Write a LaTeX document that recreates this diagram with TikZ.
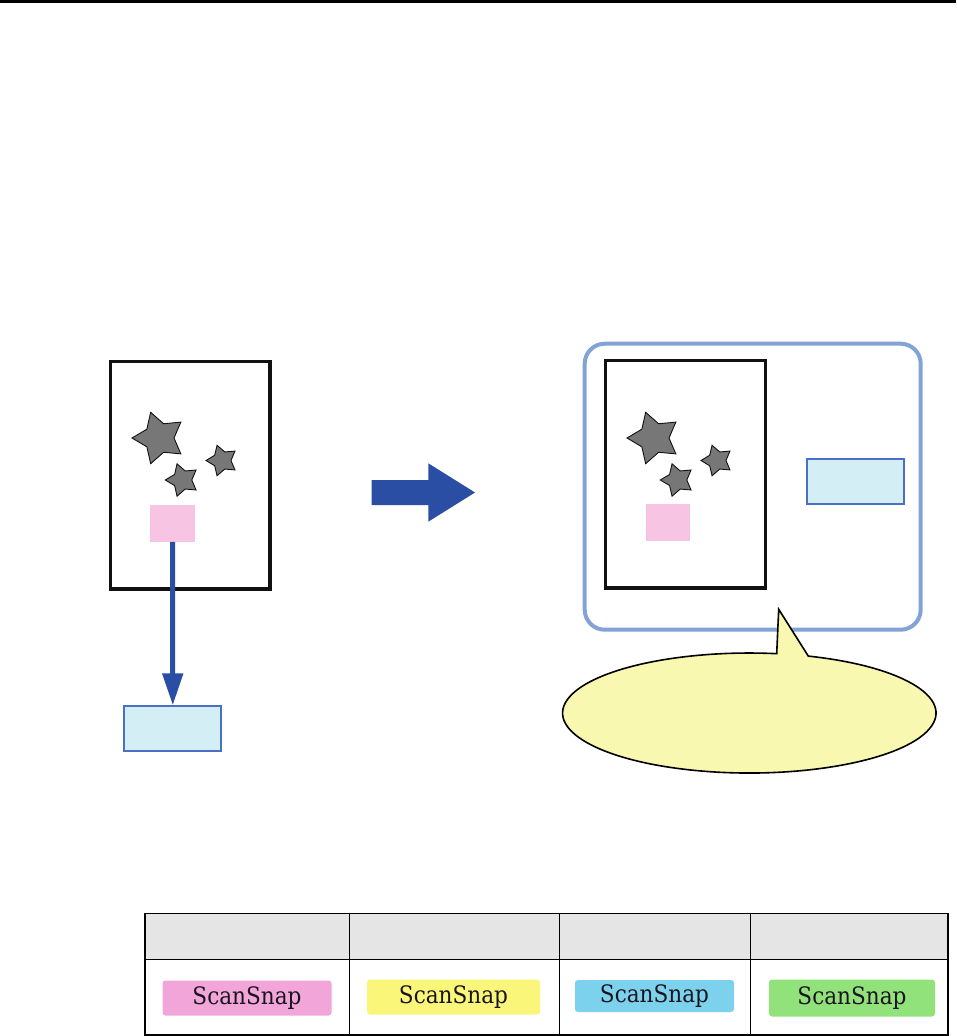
\documentclass[tikz,border=0pt]{standalone}
\usepackage{fontspec}
\newfontfamily\swfont{DejaVu Serif Condensed}
\usetikzlibrary{arrows.meta}
\definecolor{docline}{RGB}{17,17,17}
\definecolor{stargray}{RGB}{119,119,119}
\definecolor{pinkbox}{RGB}{248,196,228}
\definecolor{arrowblue}{RGB}{42,78,163}
\definecolor{cyanfill}{RGB}{211,239,245}
\definecolor{cyanline}{RGB}{74,112,196}
\definecolor{frameblue}{RGB}{131,163,214}
\definecolor{calloutfill}{RGB}{248,248,176}
\definecolor{headergray}{RGB}{229,229,229}
\definecolor{swpink}{RGB}{242,165,216}
\definecolor{swyellow}{RGB}{250,246,122}
\definecolor{swcyan}{RGB}{124,210,236}
\definecolor{swgreen}{RGB}{146,226,124}
\definecolor{swtext}{RGB}{25,20,30}
\tikzset{
  docpage/.style={draw=docline, line width=3.5pt, fill=white},
  starsty/.style={fill=stargray, draw=docline, line width=0.9pt, line join=miter},
  pinksq/.style={fill=pinkbox, draw=none, minimum width=45pt, minimum height=36.7pt, inner sep=0pt},
  cyanbox/.style={fill=cyanfill, draw=cyanline, line width=2pt, minimum width=97pt, minimum height=45pt, inner sep=0pt},
  frame/.style={draw=frameblue, line width=4pt, rounded corners=20pt},
  callout/.style={fill=calloutfill, draw=black, line width=1.6pt, line join=miter},
  tableline/.style={draw=black, line width=1.5pt},
  swatch/.style={rounded corners=3pt, inner sep=0pt, text=swtext, font=\swfont\fontsize{24}{28}\selectfont},
}
\begin{document}
\begin{tikzpicture}[x=1pt,y=-1pt]
\useasboundingbox (0,0) rectangle (956,1036);
% top rule
\fill[black] (0,0) rectangle (956,3);

% ---- left document ----
\draw[docpage] (110.5,361.3) rectangle (270,589);
\filldraw[starsty, shift={(159,438)}] (180:27) -- (216:15) -- (252:27) -- (288:15) -- (324:27) -- (0:15) -- (36:27) -- (72:15) -- (108:27) -- (144:15) -- cycle;
\filldraw[starsty, shift={(182.3,480)}] (180:17) -- (216:9.5) -- (252:17) -- (288:9.5) -- (324:17) -- (0:9.5) -- (36:17) -- (72:9.5) -- (108:17) -- (144:9.5) -- cycle;
\filldraw[starsty, shift={(222,460.5)}] (180:16) -- (216:9) -- (252:16) -- (288:9) -- (324:16) -- (0:9) -- (36:16) -- (72:9) -- (108:16) -- (144:9) -- cycle;
\node[pinksq] (pinkL) at (172.5,523.3) {};
\node[cyanbox] (cyanL) at (172.8,728.8) {};
\draw[arrowblue, line width=5pt, -{Triangle[length=32pt,width=20pt]}] (pinkL.south) -- (cyanL.north);

% ---- big arrow ----
\fill[arrowblue] (371.7,480) -- (428.3,480) -- (428.3,463.3) -- (475,492.5) -- (428.3,521.7) -- (428.3,505) -- (371.7,505) -- cycle;

% ---- right frame ----
\draw[frame, fill=white] (584.7,343.7) rectangle (920.7,629.7);
\draw[docpage] (605.5,360.7) rectangle (765.5,588);
\begin{scope}[shift={(495,0)}]
\filldraw[starsty, shift={(159,438)}] (180:27) -- (216:15) -- (252:27) -- (288:15) -- (324:27) -- (0:15) -- (36:27) -- (72:15) -- (108:27) -- (144:15) -- cycle;
\filldraw[starsty, shift={(182.3,480)}] (180:17) -- (216:9.5) -- (252:17) -- (288:9.5) -- (324:17) -- (0:9.5) -- (36:17) -- (72:9.5) -- (108:17) -- (144:9.5) -- cycle;
\filldraw[starsty, shift={(222,460.5)}] (180:16) -- (216:9) -- (252:16) -- (288:9) -- (324:16) -- (0:9) -- (36:16) -- (72:9) -- (108:16) -- (144:9) -- cycle;
\end{scope}
\node[pinksq, minimum width=44pt] (pinkR) at (668,522.7) {};
\node[cyanbox] (cyanR) at (855.5,481) {};

% ---- callout ----
\draw[callout] (808.3,656.1) arc[start angle=-71.58, end angle=278.44, x radius=186.7, y radius=60] -- (778.7,609.3) -- cycle;

% ---- table ----
\fill[headergray] (145,913.3) rectangle (948,959.3);
\draw[tableline] (145,913.3) rectangle (948,1035);
\draw[tableline] (145,959.3) -- (948,959.3);
\foreach \x in {349.3,559.3,750.5} \draw[tableline] (\x,913.3) -- (\x,1035);

\node[swatch, fill=swpink, minimum width=169pt, minimum height=35pt] (swA) at (247,998) {ScanSnap};
\node[swatch, fill=swyellow, minimum width=173pt, minimum height=35pt] (swB) at (453.5,997) {ScanSnap};
\node[swatch, fill=swcyan, minimum width=159pt, minimum height=32pt] (swC) at (654.5,996) {ScanSnap};
\node[swatch, fill=swgreen, minimum width=166pt, minimum height=37pt] (swD) at (852,998) {ScanSnap};
\end{tikzpicture}
\end{document}
